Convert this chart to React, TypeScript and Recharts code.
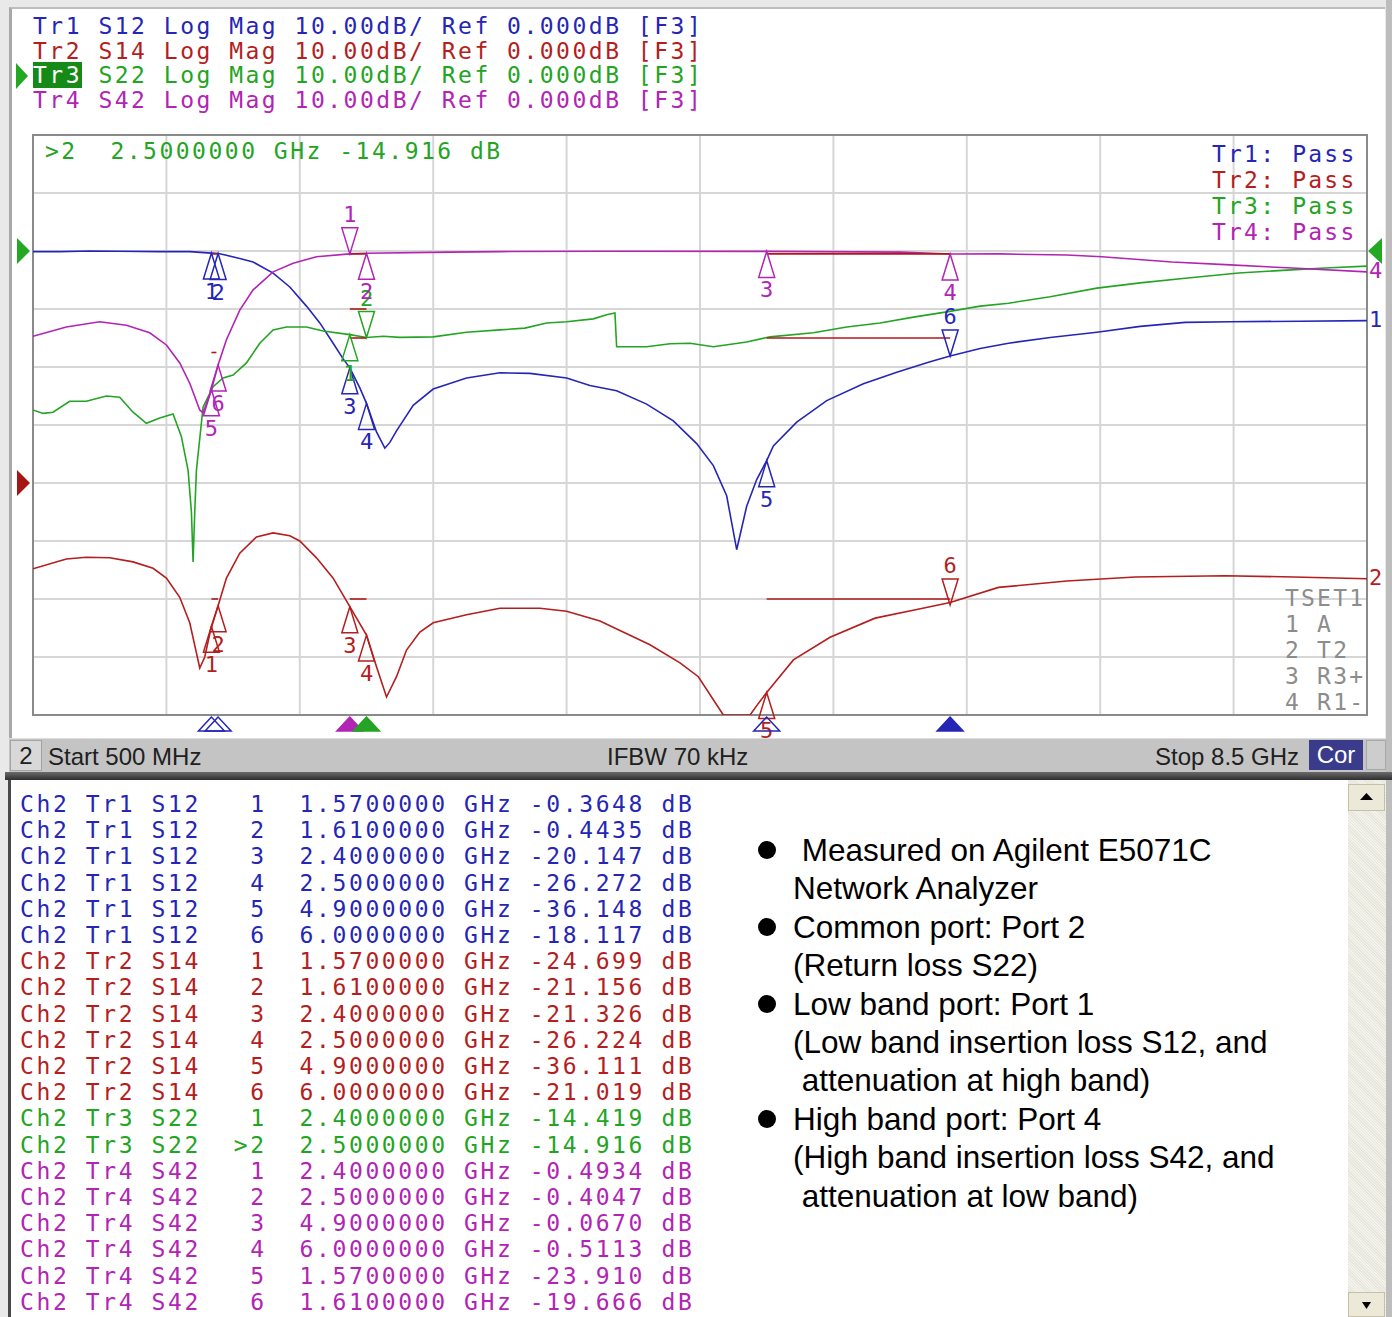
import React from 'react';
import { LineChart, Line, XAxis, YAxis, CartesianGrid, ReferenceLine, ReferenceDot, ReferenceArea } from 'recharts';

// ---------------- data ----------------
const freqTicks = [0.5, 1.3, 2.1, 2.9, 3.7, 4.5, 5.3, 6.1, 6.9, 7.7, 8.5];
const dbTicks = [-80, -70, -60, -50, -40, -30, -20, -10, 0, 10, 20];

// Tr1 S12 (dB)
const tr1Data = [
  { f: 0.5, v: -0.1 }, { f: 0.66, v: -0.1 }, { f: 0.84, v: 0.0 }, { f: 1.02, v: -0.05 }, { f: 1.26, v: -0.1 },
  { f: 1.44, v: -0.1 }, { f: 1.57, v: -0.36 }, { f: 1.61, v: -0.44 }, { f: 1.64, v: -0.6 }, { f: 1.74, v: -1.3 },
  { f: 1.82, v: -1.9 }, { f: 1.94, v: -3.8 }, { f: 2.04, v: -6.2 }, { f: 2.14, v: -9.5 }, { f: 2.22, v: -12.4 },
  { f: 2.3, v: -15.9 }, { f: 2.36, v: -18.6 }, { f: 2.4, v: -20.15 }, { f: 2.46, v: -23.6 }, { f: 2.5, v: -26.27 },
  { f: 2.56, v: -31.2 }, { f: 2.61, v: -34.0 }, { f: 2.64, v: -33.0 }, { f: 2.68, v: -31.0 }, { f: 2.78, v: -26.6 },
  { f: 2.9, v: -23.8 }, { f: 3.1, v: -21.9 }, { f: 3.3, v: -21.0 }, { f: 3.48, v: -21.1 }, { f: 3.7, v: -21.9 },
  { f: 3.84, v: -23.2 }, { f: 4.0, v: -24.1 }, { f: 4.18, v: -26.4 }, { f: 4.34, v: -29.3 }, { f: 4.48, v: -33.2 },
  { f: 4.58, v: -37.0 }, { f: 4.66, v: -42.2 }, { f: 4.72, v: -51.5 }, { f: 4.78, v: -44.0 }, { f: 4.84, v: -39.4 },
  { f: 4.9, v: -36.15 }, { f: 4.94, v: -33.6 }, { f: 5.08, v: -29.5 }, { f: 5.26, v: -25.8 }, { f: 5.48, v: -22.9 },
  { f: 5.68, v: -20.9 }, { f: 5.88, v: -19.1 }, { f: 6.0, v: -18.12 }, { f: 6.18, v: -16.8 }, { f: 6.35, v: -15.9 },
  { f: 6.6, v: -14.9 }, { f: 6.88, v: -14.0 }, { f: 7.14, v: -13.0 }, { f: 7.41, v: -12.3 }, { f: 7.68, v: -12.2 },
  { f: 8.1, v: -12.1 }, { f: 8.5, v: -12.0 },
];

// Tr2 S14 (dB)
const tr2Data = [
  { f: 0.5, v: -14.8 }, { f: 0.7, v: -13.1 }, { f: 0.82, v: -12.8 }, { f: 0.96, v: -12.9 }, { f: 1.1, v: -13.6 },
  { f: 1.22, v: -14.7 }, { f: 1.3, v: -16.4 }, { f: 1.38, v: -19.7 }, { f: 1.44, v: -24.1 }, { f: 1.48, v: -29.3 },
  { f: 1.5, v: -31.9 }, { f: 1.53, v: -30.0 }, { f: 1.57, v: -24.7 }, { f: 1.61, v: -21.16 }, { f: 1.66, v: -16.4 },
  { f: 1.74, v: -12.1 }, { f: 1.84, v: -9.3 }, { f: 1.94, v: -8.6 }, { f: 2.04, v: -9.1 }, { f: 2.1, v: -10.0 },
  { f: 2.2, v: -12.9 }, { f: 2.3, v: -16.4 }, { f: 2.4, v: -21.33 }, { f: 2.5, v: -26.22 }, { f: 2.56, v: -31.7 },
  { f: 2.62, v: -36.9 }, { f: 2.68, v: -33.4 }, { f: 2.74, v: -28.8 }, { f: 2.82, v: -25.7 }, { f: 2.9, v: -24.1 },
  { f: 3.1, v: -22.7 }, { f: 3.3, v: -21.6 }, { f: 3.54, v: -21.6 }, { f: 3.7, v: -22.1 }, { f: 3.9, v: -23.8 },
  { f: 4.2, v: -27.9 }, { f: 4.38, v: -31.0 }, { f: 4.49, v: -33.4 }, { f: 4.64, v: -40.0 }, { f: 4.8, v: -40.0 },
  { f: 4.85, v: -38.0 }, { f: 4.9, v: -36.11 }, { f: 5.06, v: -30.5 }, { f: 5.28, v: -26.6 }, { f: 5.55, v: -23.3 },
  { f: 5.8, v: -21.8 }, { f: 6.0, v: -20.6 }, { f: 6.29, v: -18.0 }, { f: 6.7, v: -16.9 }, { f: 7.11, v: -16.2 },
  { f: 7.65, v: -16.0 }, { f: 8.06, v: -16.2 }, { f: 8.5, v: -16.5 },
];

// Tr3 S22 (dB)
const tr3Data = [
  { f: 0.5, v: -27.4 }, { f: 0.56, v: -28.0 }, { f: 0.62, v: -27.8 }, { f: 0.72, v: -25.9 }, { f: 0.82, v: -25.9 },
  { f: 0.94, v: -25.0 }, { f: 1.02, v: -25.2 }, { f: 1.1, v: -27.8 }, { f: 1.18, v: -29.7 }, { f: 1.26, v: -28.8 },
  { f: 1.34, v: -28.1 }, { f: 1.39, v: -32.0 }, { f: 1.43, v: -37.8 }, { f: 1.45, v: -45.0 }, { f: 1.46, v: -53.6 },
  { f: 1.47, v: -45.0 }, { f: 1.48, v: -37.8 }, { f: 1.52, v: -26.9 }, { f: 1.58, v: -23.4 }, { f: 1.64, v: -21.9 },
  { f: 1.7, v: -21.4 }, { f: 1.78, v: -19.3 }, { f: 1.86, v: -15.9 }, { f: 1.94, v: -13.6 }, { f: 2.02, v: -13.1 },
  { f: 2.14, v: -13.1 }, { f: 2.24, v: -13.8 }, { f: 2.4, v: -14.42 }, { f: 2.5, v: -14.92 }, { f: 2.6, v: -14.7 },
  { f: 2.7, v: -14.9 }, { f: 2.9, v: -14.8 }, { f: 3.1, v: -14.0 }, { f: 3.3, v: -13.6 }, { f: 3.45, v: -13.3 },
  { f: 3.58, v: -12.4 }, { f: 3.7, v: -12.2 }, { f: 3.86, v: -11.7 }, { f: 3.94, v: -11.0 }, { f: 3.99, v: -10.7 },
  { f: 4.0, v: -16.5 }, { f: 4.18, v: -16.5 }, { f: 4.32, v: -16.0 }, { f: 4.44, v: -15.9 }, { f: 4.58, v: -16.5 },
  { f: 4.78, v: -15.7 }, { f: 4.92, v: -14.8 }, { f: 5.18, v: -14.1 }, { f: 5.38, v: -13.1 }, { f: 5.58, v: -12.4 },
  { f: 5.78, v: -11.4 }, { f: 5.98, v: -10.5 }, { f: 6.18, v: -9.5 }, { f: 6.35, v: -9.0 }, { f: 6.6, v: -7.9 },
  { f: 6.88, v: -6.4 }, { f: 7.14, v: -5.5 }, { f: 7.41, v: -4.7 }, { f: 7.73, v: -3.8 }, { f: 8.02, v: -3.3 },
  { f: 8.28, v: -2.9 }, { f: 8.5, v: -2.6 },
];

// Tr4 S42 (dB)
const tr4Data = [
  { f: 0.5, v: -14.7 }, { f: 0.7, v: -13.1 }, { f: 0.9, v: -12.2 }, { f: 1.06, v: -12.8 }, { f: 1.2, v: -14.1 },
  { f: 1.3, v: -16.2 }, { f: 1.38, v: -19.3 }, { f: 1.44, v: -22.8 }, { f: 1.5, v: -27.4 }, { f: 1.52, v: -27.9 },
  { f: 1.57, v: -23.91 }, { f: 1.61, v: -19.67 }, { f: 1.66, v: -15.3 }, { f: 1.74, v: -10.2 }, { f: 1.82, v: -6.7 },
  { f: 1.94, v: -3.6 }, { f: 2.06, v: -2.1 }, { f: 2.2, v: -1.0 }, { f: 2.4, v: -0.49 }, { f: 2.5, v: -0.4 },
  { f: 3.0, v: -0.2 }, { f: 3.3, v: -0.1 }, { f: 3.9, v: -0.05 }, { f: 4.9, v: -0.07 }, { f: 5.7, v: -0.2 },
  { f: 6.0, v: -0.51 }, { f: 6.3, v: -0.5 }, { f: 6.7, v: -0.7 }, { f: 6.91, v: -1.0 }, { f: 7.33, v: -1.9 },
  { f: 7.68, v: -2.4 }, { f: 8.02, v: -2.9 }, { f: 8.5, v: -3.6 },
];

// markers: number, frequency (GHz), value (dB)
const tr1Markers = [
  { n: 1, f: 1.57, v: -0.3648 }, { n: 2, f: 1.61, v: -0.4435 }, { n: 3, f: 2.4, v: -20.147 },
  { n: 4, f: 2.5, v: -26.272 }, { n: 5, f: 4.9, v: -36.148 }, { n: 6, f: 6.0, v: -18.117 },
];
const tr2Markers = [
  { n: 1, f: 1.57, v: -24.699 }, { n: 2, f: 1.61, v: -21.156 }, { n: 3, f: 2.4, v: -21.326 },
  { n: 4, f: 2.5, v: -26.224 }, { n: 5, f: 4.9, v: -36.111 }, { n: 6, f: 6.0, v: -21.019 },
];
const tr3Markers = [
  { n: 1, f: 2.4, v: -14.419 }, { n: 2, f: 2.5, v: -14.916 },
];
const tr4Markers = [
  { n: 1, f: 2.4, v: -0.4934 }, { n: 2, f: 2.5, v: -0.4047 }, { n: 3, f: 4.9, v: -0.067 },
  { n: 4, f: 6.0, v: -0.5113 }, { n: 5, f: 1.57, v: -23.91 }, { n: 6, f: 1.61, v: -19.666 },
];
const activeMarker = [6, 6, 2, 1];
const activeTrace = 3;

// limit line segments: trace index, start f, stop f, level dB
const limitLines = [
  { t: 1, f1: 1.57, f2: 1.61, v: -0.5 }, { t: 1, f1: 2.4, f2: 2.5, v: -15 }, { t: 1, f1: 4.9, f2: 6.0, v: -15 },
  { t: 2, f1: 1.57, f2: 1.61, v: -20 }, { t: 2, f1: 2.4, f2: 2.5, v: -20 }, { t: 2, f1: 4.9, f2: 6.0, v: -20 },
  { t: 3, f1: 2.4, f2: 2.5, v: -10 },
  { t: 4, f1: 1.57, f2: 1.6, v: -17.5 }, { t: 4, f1: 2.4, f2: 2.5, v: -0.5 }, { t: 4, f1: 4.9, f2: 6.0, v: -0.5 },
];

// stimulus indicators under the grid: trace, freq, filled
const stimMarks = [
  { t: 1, f: 1.57, filled: false }, { t: 1, f: 1.61, filled: false }, { t: 4, f: 2.4, filled: true },
  { t: 3, f: 2.5, filled: true }, { t: 1, f: 4.9, filled: false }, { t: 1, f: 6.0, filled: true },
];

const traceNames = ['Tr1', 'Tr2', 'Tr3', 'Tr4'];
const traceParams = ['S12', 'S14', 'S22', 'S42'];
const scaleText = 'Log Mag 10.00dB/ Ref 0.000dB [F3]';
const tsetLines = ['TSET1', '1 A', '2 T2', '3 R3+', '4 R1-'];
const bulletLines = [
  { text: ' Measured on Agilent E5071C', bullet: true },
  { text: 'Network Analyzer', bullet: false },
  { text: 'Common port: Port 2', bullet: true },
  { text: '(Return loss S22)', bullet: false },
  { text: 'Low band port: Port 1', bullet: true },
  { text: '(Low band insertion loss S12, and', bullet: false },
  { text: ' attenuation at high band)', bullet: false },
  { text: 'High band port: Port 4', bullet: true },
  { text: '(High band insertion loss S42, and', bullet: false },
  { text: ' attenuation at low band)', bullet: false },
];
const startLabel = 'Start 500 MHz';
const ifbwLabel = 'IFBW 70 kHz';
const stopLabel = 'Stop 8.5 GHz';

// ---------------- styles ----------------
const COLORS = ['#2626b6', '#b41e1e', '#24a424', '#b224b4'];
const MONO = '"DejaVu Sans Mono", monospace';
const SANS = '"Liberation Sans", Arial, sans-serif';

const traceData = [tr1Data, tr2Data, tr3Data, tr4Data];
const traceMarkers = [tr1Markers, tr2Markers, tr3Markers, tr4Markers];
const axisOf = (t: number) => (t === 2 ? 'tr2' : 'main');

const fmtVal = (v: number) => (Math.abs(v) >= 10 ? v.toFixed(3) : v.toFixed(4));
const markerId = (ti: number, n: number) => (ti + 1 === activeTrace && activeMarker[ti] === n ? '>' + n : String(n));

const tableRows: { text: string; color: string }[] = [];
traceMarkers.forEach((ms, ti) => {
  ms.forEach((m) => {
    tableRows.push({
      text: `Ch2 ${traceNames[ti]} ${traceParams[ti]}${markerId(ti, m.n).padStart(4)}  ${m.f.toFixed(7)} GHz ${fmtVal(m.v).padStart(7)} dB`,
      color: COLORS[ti],
    });
  });
});

const act = traceMarkers[activeTrace - 1].find((m) => m.n === activeMarker[activeTrace - 1])!;
const readout = `>${act.n}  ${act.f.toFixed(7)} GHz ${fmtVal(act.v)} dB`;

function markerShape(color: string, label: string, down: boolean) {
  return (props: any) => {
    const { cx, cy } = props;
    if (cx == null || cy == null) return <g />;
    const h = 26;
    const w = 8;
    const pts = down
      ? `${cx},${cy} ${cx - w},${cy - h} ${cx + w},${cy - h}`
      : `${cx},${cy} ${cx - w},${cy + h} ${cx + w},${cy + h}`;
    return (
      <g>
        <polygon points={pts} fill="none" stroke={color} strokeWidth={1.5} />
        <text x={cx} y={down ? cy - 32 : cy + 46} textAnchor="middle" fill={color} fontFamily={MONO} fontSize={22}>
          {label}
        </text>
      </g>
    );
  };
}

function stimShape(color: string, filled: boolean) {
  return (props: any) => {
    const { cx, cy } = props;
    if (cx == null || cy == null) return <g />;
    return (
      <polygon
        points={`${cx},${cy + 2} ${cx - 13},${cy + 16} ${cx + 13},${cy + 16}`}
        fill={filled ? color : 'none'}
        stroke={color}
        strokeWidth={1.5}
      />
    );
  };
}

function refArrow(color: string, side: 'left' | 'right') {
  return (props: any) => {
    const { cx, cy } = props;
    if (cx == null || cy == null) return <g />;
    const pts =
      side === 'left'
        ? `${cx - 3},${cy} ${cx - 16},${cy - 13} ${cx - 16},${cy + 13}`
        : `${cx + 1},${cy} ${cx + 15},${cy - 13} ${cx + 15},${cy + 13}`;
    return <polygon points={pts} fill={color} />;
  };
}

function endLabel(color: string, label: string) {
  return (props: any) => {
    const { cx, cy } = props;
    if (cx == null || cy == null) return <g />;
    return (
      <text x={cx + 2} y={cy + 6} fill={color} fontFamily={MONO} fontSize={22}>
        {label}
      </text>
    );
  };
}

const abs = (s: React.CSSProperties): React.CSSProperties => ({ position: 'absolute', ...s });

export default function App() {
  return (
    <div style={abs({ left: 0, top: 0, width: 1392, height: 1317, background: '#e9e9e9', overflow: 'hidden' })}>
      {/* upper panel */}
      <div style={abs({ left: 9, top: 7, width: 1376, height: 731, background: '#ffffff', borderLeft: '3px solid #a9a9a9', borderTop: '2px solid #bdbdbd', boxSizing: 'border-box' })} />
      <div style={abs({ left: 1386, top: 0, width: 6, height: 1317, background: '#bdbdbd' })} />

      {/* header lines */}
      <div style={abs({ left: 33, top: 14, fontFamily: MONO, fontSize: 23, lineHeight: '24.67px', letterSpacing: 2.5, whiteSpace: 'pre' })}>
        {traceNames.map((n, i) => (
          <div key={n} style={{ color: COLORS[i] }}>
            <span style={i + 1 === activeTrace ? { background: '#168a16', color: '#ffffff' } : undefined}>{n}</span>
            {` ${traceParams[i]} ${scaleText}`}
          </div>
        ))}
      </div>
      <svg style={abs({ left: 14, top: 62, width: 16, height: 28 })}>
        <polygon points="2,1 14,14 2,27" fill="#22a822" />
      </svg>

      {/* chart */}
      <div style={abs({ left: 0, top: 0 })}>
        <LineChart width={1392} height={740} margin={{ top: 135, right: 25, bottom: 25, left: 33 }}>
          <XAxis type="number" dataKey="f" domain={[0.5, 8.5]} ticks={freqTicks} hide allowDataOverflow />
          <YAxis yAxisId="main" type="number" domain={[-80, 20]} ticks={dbTicks} hide allowDataOverflow />
          <YAxis yAxisId="tr2" type="number" domain={[-40, 60]} hide allowDataOverflow />
          <CartesianGrid yAxisId="main" stroke="#d6d6d6" strokeWidth={2} />
          <ReferenceArea yAxisId="main" x1={0.5} x2={8.5} y1={-80} y2={20} fill="none" stroke="#8a8a8a" strokeWidth={2} ifOverflow="visible" />
          {traceData.map((d, i) => (
            <Line
              key={traceNames[i]}
              yAxisId={axisOf(i + 1)}
              data={d}
              dataKey="v"
              type="linear"
              stroke={COLORS[i]}
              strokeWidth={1.6}
              dot={false}
              isAnimationActive={false}
            />
          ))}
          {limitLines.map((l, i) => (
            <ReferenceLine
              key={'lim' + i}
              yAxisId={axisOf(l.t)}
              segment={[{ x: l.f1, y: l.v }, { x: l.f2, y: l.v }]}
              stroke="#b01818"
              strokeWidth={1.6}
              ifOverflow="visible"
            />
          ))}
          {traceMarkers.map((ms, ti) =>
            ms.map((m) => (
              <ReferenceDot
                key={`m${ti}-${m.n}`}
                yAxisId={axisOf(ti + 1)}
                x={m.f}
                y={m.v}
                ifOverflow="visible"
                shape={markerShape(COLORS[ti], String(m.n), activeMarker[ti] === m.n)}
              />
            ))
          )}
          {stimMarks.map((s, i) => (
            <ReferenceDot key={'s' + i} yAxisId="main" x={s.f} y={-80} ifOverflow="visible" shape={stimShape(COLORS[s.t - 1], s.filled)} />
          ))}
          <ReferenceDot yAxisId="main" x={0.5} y={0} ifOverflow="visible" shape={refArrow('#22a822', 'left')} />
          <ReferenceDot yAxisId="tr2" x={0.5} y={0} ifOverflow="visible" shape={refArrow('#a81414', 'left')} />
          <ReferenceDot yAxisId="main" x={8.5} y={0} ifOverflow="visible" shape={refArrow('#22a822', 'right')} />
          {[0, 1, 3].map((ti) => {
            const last = traceData[ti][traceData[ti].length - 1];
            return (
              <ReferenceDot
                key={'end' + ti}
                yAxisId={axisOf(ti + 1)}
                x={last.f}
                y={last.v}
                ifOverflow="visible"
                shape={endLabel(COLORS[ti], String(ti + 1))}
              />
            );
          })}
        </LineChart>
      </div>

      {/* in-grid texts */}
      <div style={abs({ left: 45, top: 139, fontFamily: MONO, fontSize: 23, lineHeight: '25px', letterSpacing: 2.5, whiteSpace: 'pre', color: COLORS[activeTrace - 1] })}>
        {readout}
      </div>
      <div style={abs({ left: 1212, top: 141, fontFamily: MONO, fontSize: 23, lineHeight: '26px', letterSpacing: 2.2, whiteSpace: 'pre' })}>
        {traceNames.map((n, i) => (
          <div key={n} style={{ color: COLORS[i] }}>{`${n}: Pass`}</div>
        ))}
      </div>
      <div style={abs({ left: 1285, top: 585, fontFamily: MONO, fontSize: 23, lineHeight: '26px', letterSpacing: 2.2, whiteSpace: 'pre', color: '#8c8c8c' })}>
        {tsetLines.map((t) => (
          <div key={t}>{t}</div>
        ))}
      </div>

      {/* status bar */}
      <div style={abs({ left: 9, top: 738, width: 1377, height: 34, background: '#c4c4c4', borderTop: '1px solid #dedede', boxSizing: 'border-box' })} />
      <div style={abs({ left: 10, top: 740, width: 32, height: 31, background: '#d8d8d8', border: '1px solid #a4a4a4', boxSizing: 'border-box', fontFamily: SANS, fontSize: 24, lineHeight: '29px', textAlign: 'center', color: '#202020' })}>2</div>
      <div style={abs({ left: 48, top: 743, fontFamily: SANS, fontSize: 24, lineHeight: '28px', color: '#202020', whiteSpace: 'pre' })}>{startLabel}</div>
      <div style={abs({ left: 607, top: 743, fontFamily: SANS, fontSize: 24, lineHeight: '28px', color: '#202020', whiteSpace: 'pre' })}>{ifbwLabel}</div>
      <div style={abs({ left: 1155, top: 743, fontFamily: SANS, fontSize: 24, lineHeight: '28px', color: '#202020', whiteSpace: 'pre' })}>{stopLabel}</div>
      <div style={abs({ left: 1309, top: 740, width: 54, height: 30, background: '#3b3b8c', color: '#ffffff', fontFamily: SANS, fontSize: 24, lineHeight: '30px', textAlign: 'center' })}>Cor</div>
      <div style={abs({ left: 1366, top: 740, width: 20, height: 30, background: '#cdcdcd', border: '1px solid #a8a8a8', boxSizing: 'border-box' })} />

      {/* separator */}
      <div style={abs({ left: 5, top: 772, width: 1387, height: 8, background: 'linear-gradient(#6a6a6a, #2e2e2e)' })} />

      {/* lower panel */}
      <div style={abs({ left: 8, top: 780, width: 1340, height: 537, background: '#ffffff', borderLeft: '3px solid #4a4a4a', boxSizing: 'border-box' })} />
      <div style={abs({ left: 20, top: 791, fontFamily: MONO, fontSize: 23, lineHeight: '26.2px', letterSpacing: 2.6, whiteSpace: 'pre' })}>
        {tableRows.map((r, i) => (
          <div key={i} style={{ color: r.color }}>{r.text}</div>
        ))}
      </div>
      <div style={abs({ left: 793, top: 831, fontFamily: SANS, fontSize: 31.5, lineHeight: '38.4px', color: '#000000', whiteSpace: 'pre' })}>
        {bulletLines.map((b, i) => (
          <div key={i} style={{ position: 'relative' }}>
            {b.bullet && (
              <span style={{ position: 'absolute', left: -35, top: 10, width: 18, height: 18, borderRadius: 9, background: '#000000' }} />
            )}
            {b.text}
          </div>
        ))}
      </div>

      {/* scrollbar */}
      <div style={abs({ left: 1348, top: 780, width: 38, height: 537, background: 'repeating-linear-gradient(45deg, #f3f3ec 0px, #f3f3ec 1px, #e6e6dc 1px, #e6e6dc 2px)' })} />
      <div style={abs({ left: 1348, top: 784, width: 37, height: 27, background: '#ece9d8', border: '1px solid #c4c0aa', boxSizing: 'border-box' })}>
        <svg width={35} height={25}><polygon points="11,15 17.5,8 24,15" fill="#000" /></svg>
      </div>
      <div style={abs({ left: 1348, top: 1292, width: 37, height: 25, background: '#ece9d8', border: '1px solid #c4c0aa', boxSizing: 'border-box' })}>
        <svg width={35} height={23}><polygon points="13,9 22,9 17.5,16" fill="#000" /></svg>
      </div>
    </div>
  );
}
